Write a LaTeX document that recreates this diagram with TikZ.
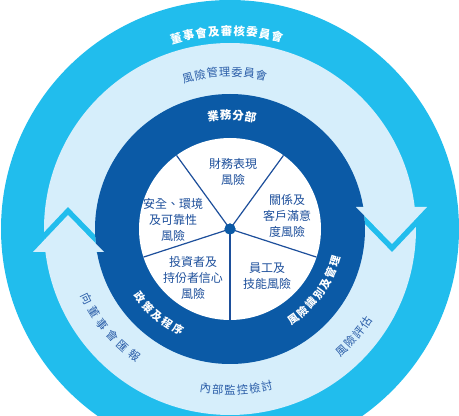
\documentclass[tikz,border=0pt]{standalone}
\usepackage{fontspec}
\newfontfamily\cjk{Noto Sans CJK TC}
\definecolor{cyanring}{HTML}{21BDED}
\definecolor{lightring}{HTML}{D6EEFB}
\definecolor{darkring}{HTML}{0B5AA6}
\definecolor{txtblue}{HTML}{1D4F9B}
\definecolor{ringtxt}{HTML}{2A5DA8}
\newcommand\arcchars[7]{%
  \foreach \ch [count=\i] in {#7} {%
    \pgfmathsetmacro\ang{#2+(\i-1)*(#3)}%
    \pgfmathsetmacro\rot{\ang+#4}%
    \node[#5, rotate=\rot, name=#6-\i] at ([shift={(\ang:#1)}]C) {\ch};
  }}
\begin{document}
\begin{tikzpicture}[x=1pt,y=1pt,
  chw/.style={inner sep=0pt, text=white, font=\cjk\bfseries\fontsize{11.5}{11.5}\selectfont},
  chws/.style={inner sep=0pt, text=white, font=\cjk\bfseries\fontsize{10.8}{10.8}\selectfont},
  chb/.style={inner sep=0pt, text=ringtxt, font=\cjk\fontsize{11.3}{11.3}\selectfont},
  pietxt/.style={inner sep=0pt, text=txtblue, align=center, font=\cjk\fontsize{12}{16}\selectfont},
  divider/.style={draw=txtblue, line width=1.2pt},
  arrowfill/.style={fill=lightring},
  arrowedge/.style={draw=cyanring, line width=11pt, line join=miter}]
\useasboundingbox (0,0) rectangle (459,416);
\clip (0,0) rectangle (459,416);
\coordinate (C) at (230,187);
\fill[cyanring] (C) circle (229);
\fill[lightring] (C) circle (186);
\fill[darkring] (C) circle (135);
% arrow heads
\coordinate (LA1) at (33,164);
\coordinate (LAt) at (68,201);
\coordinate (LA2) at (104,164);
\coordinate (RA1) at (427,209);
\coordinate (RAt) at (392,172);
\coordinate (RA2) at (356,209);
\begin{scope}[even odd rule]
  \clip (C) circle (186) (C) circle (135);
  \draw[arrowedge] (LA1) -- (LAt) -- (LA2);
  \draw[arrowedge] (RA1) -- (RAt) -- (RA2);
\end{scope}
\fill[arrowfill] (LA1) -- (LAt) -- (LA2) -- cycle;
\fill[arrowfill] (RA1) -- (RAt) -- (RA2) -- cycle;
\fill[white] (C) circle (91);
% pie dividers
\node[circle, fill=darkring, minimum size=11pt, inner sep=0pt] (dot) at (C) {};
\foreach \a [count=\k] in {54,126,198,270,342} {
  \coordinate (e\k) at ([shift={(\a:91)}]C);
  \draw[divider] (dot.center) -- (e\k);
}
\fill[darkring] (C) circle (5.5);
% pie texts
\node[pietxt] (p1) at (233,244) {財務表現\\風險};
\node[pietxt] (p2) at (287,200) {關係及\\客戶滿意\\度風險};
\node[pietxt] (p3) at (267,140) {員工及\\技能風險};
\node[pietxt] (p4) at (193,138) {投資者及\\持份者信心\\風險};
\node[pietxt] (p5) at (173,196) {安全、環境\\及可靠性\\風險};
% ring texts
\arcchars{198}{105.8}{-3.7}{-90}{chw}{ta}{董,事,會,及,審,核,委,員,會}
\arcchars{157}{105.5}{-4.5}{-90}{chb}{tb}{風,險,管,理,委,員,會}
\arcchars{114}{98.45}{-6.3}{-90}{chw}{tc}{業,務,分,部}
\arcchars{113}{217.4}{6.3}{90}{chws}{td}{政,策,及,程,序}
\arcchars{110}{305.25}{6.25}{90}{chws}{te}{風,險,識,別,及,管,理}
\arcchars{159}{206}{5.4}{90}{chb}{tf}{向,董,事,會,匯,報}
\arcchars{161}{261.25}{4.4}{90}{chb}{tg}{內,部,監,控,檢,討}
\arcchars{165}{312.55}{4.3}{90}{chb}{th}{風,險,評,估}
\end{tikzpicture}
\end{document}
